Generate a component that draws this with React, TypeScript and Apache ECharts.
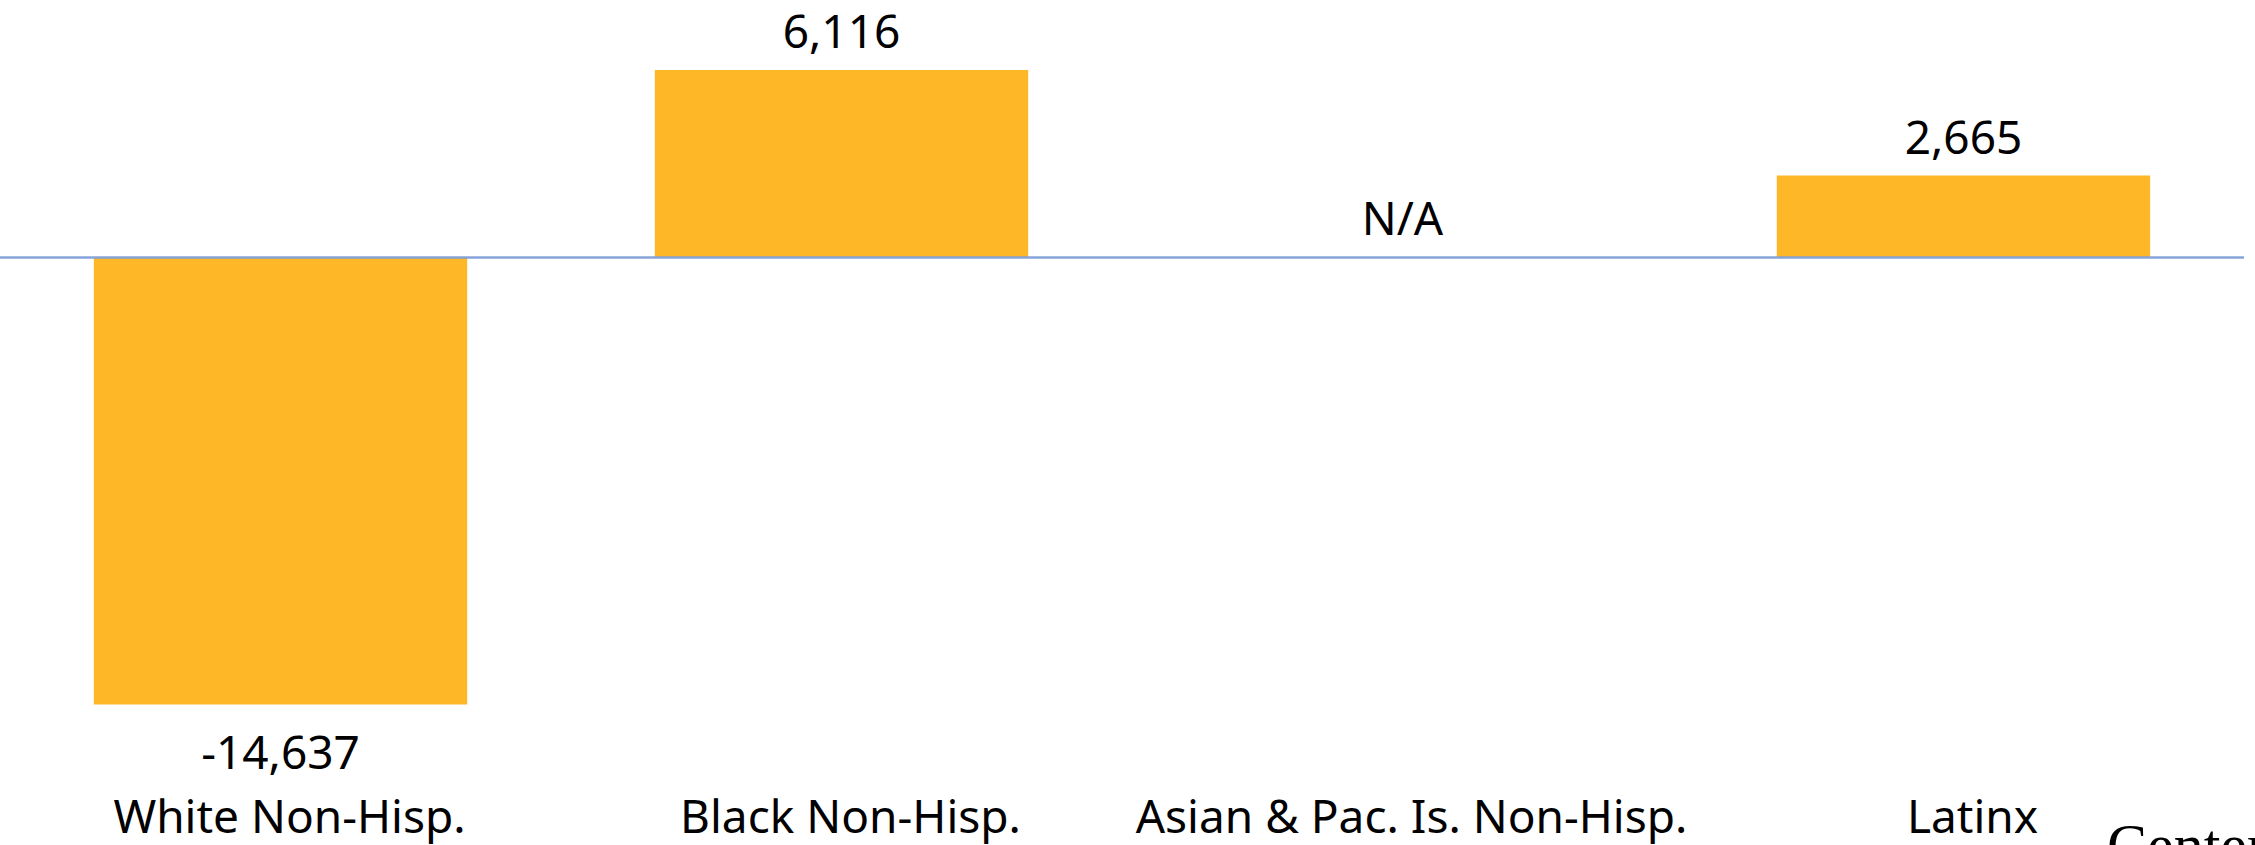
import React, { useEffect, useRef } from "react";
import * as echarts from "echarts";

const categories: string[] = [
  "White Non-Hisp.",
  "Black Non-Hisp.",
  "Asian & Pac. Is. Non-Hisp.",
  "Latinx",
];
const values: (number | null)[] = [-14637, 6116, null, 2665];
const missingText = "N/A";
const sourceText = "Center";

const BAR_COLOR = "#FEB727";
const ZERO_COLOR = "#819FD8";
const FONT = '"Noto Sans", "Open Sans", sans-serif';

export default function App() {
  const ref = useRef<HTMLDivElement | null>(null);

  useEffect(() => {
    if (!ref.current) return;
    const chart = echarts.init(ref.current, null, { renderer: "svg" });

    const seriesData = values.map((v) => {
      if (v == null) {
        return { value: 0, label: { formatter: missingText } };
      }
      if (v < 0) {
        return { value: v, label: { position: "bottom", distance: 24 } };
      }
      return { value: v };
    });

    chart.setOption({
      animation: false,
      backgroundColor: "#ffffff",
      grid: { left: -4, right: 11, top: 12.44, bottom: 98.9, containLabel: false },
      xAxis: {
        type: "category",
        data: categories,
        axisLine: { show: false, onZero: false },
        axisTick: { show: false },
        splitLine: { show: false },
        axisLabel: {
          interval: 0,
          color: "#000000",
          fontFamily: FONT,
          fontSize: 46,
          margin: 46,
          padding: [0, 0, 0, 18],
        },
      },
      yAxis: {
        type: "value",
        min: -16000,
        max: 8000,
        show: false,
        splitLine: { show: false },
      },
      series: [
        {
          type: "bar",
          data: seriesData,
          barWidth: "66.55%",
          itemStyle: { color: BAR_COLOR },
          label: {
            show: true,
            position: "top",
            distance: 17,
            color: "#000000",
            fontFamily: FONT,
            fontSize: 46,
            formatter: (p: any) => Number(p.value).toLocaleString("en-US"),
          },
          markLine: {
            silent: true,
            symbol: ["none", "none"],
            label: { show: false },
            lineStyle: { color: ZERO_COLOR, width: 2.5, type: "solid", opacity: 0.95 },
            data: [{ yAxis: 0 }],
          },
        },
      ],
      graphic: [
        {
          type: "text",
          left: 2107,
          top: 815,
          style: {
            text: sourceText,
            font: '60px "Liberation Serif", "Times New Roman", serif',
            fill: "#000000",
          },
        },
      ],
    });

    return () => {
      chart.dispose();
    };
  }, []);

  return (
    <div
      ref={ref}
      style={{
        position: "fixed",
        left: 0,
        top: 0,
        width: 2255,
        height: 845,
        background: "#ffffff",
      }}
    />
  );
}
